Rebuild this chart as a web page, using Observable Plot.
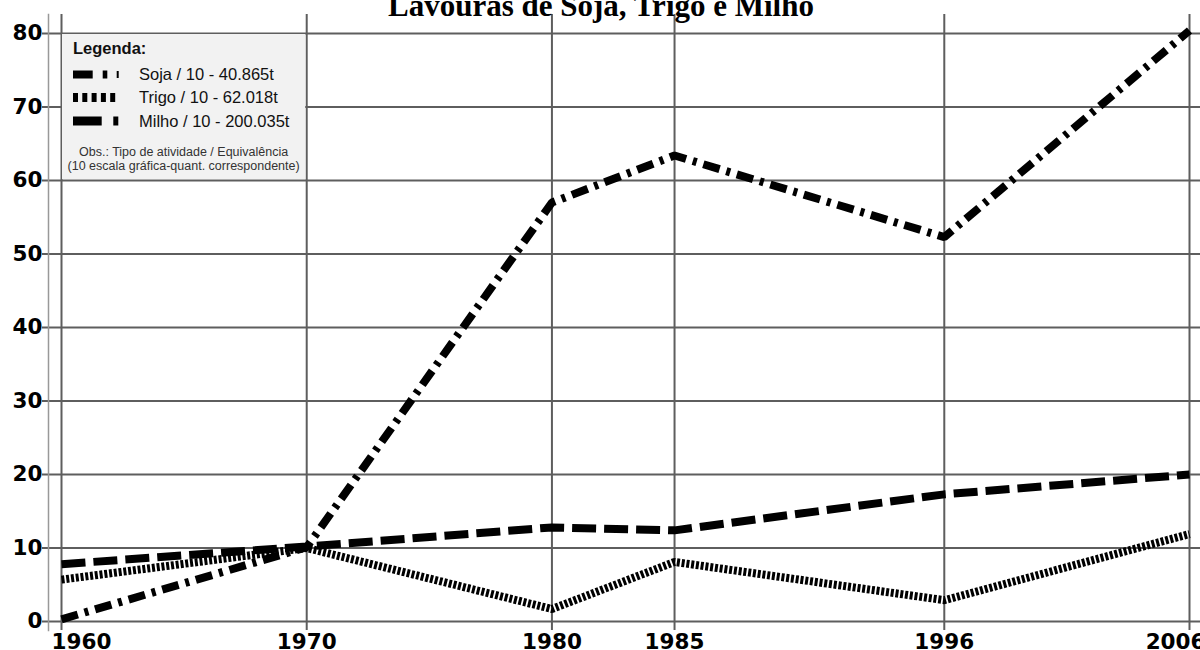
<!DOCTYPE html>
<html><head><meta charset="utf-8">
<script src="https://cdn.jsdelivr.net/npm/d3@7"></script>
<script src="https://cdn.jsdelivr.net/npm/@observablehq/plot@0.6"></script>
<style>
html,body{margin:0;padding:0;background:#fff;overflow:hidden;}
#chart{position:relative;width:1200px;height:650px;}
</style></head><body><div id="chart"></div>
<script>
const title = "Lavouras de Soja, Trigo e Milho";
const years = [1960, 1970, 1980, 1985, 1996, 2006];
const soja  = [0.3, 10.1, 57.0, 63.4, 52.3, 80.4];
const trigo = [5.7, 10.0, 1.7, 8.1, 2.9, 11.9];
const milho = [7.8, 10.2, 12.8, 12.4, 17.3, 20.0];
const yTicks = [0, 10, 20, 30, 40, 50, 60, 70, 80];
const legendTitle = "Legenda:";
const legendLabels = ["Soja / 10 - 40.865t", "Trigo / 10 - 62.018t", "Milho / 10 - 200.035t"];
const legendNote = ["Obs.: Tipo de atividade / Equivalência", "(10 escala gráfica-quant. correspondente)"];

const series = [
  {name: "Milho", values: milho, dash: "24,8"},
  {name: "Trigo", values: trigo, dash: "3,1.8"},
  {name: "Soja", values: soja, dash: "17,7,4,7"}
];
const rows = series.flatMap(s => years.map((yr, i) => ({serie: s.name, year: yr, value: s.values[i]})));

const gridColor = "#5e5e5e";
const midYears = years.slice(1, -1);
const lblStyle = {frameAnchor: "bottom", lineAnchor: "top", dy: 12, fontSize: 21.5, fontWeight: "bold", fontFamily: "DejaVu Sans", fill: "#000"};

const plot = Plot.plot({
  width: 1200, height: 650,
  marginLeft: 61, marginRight: 11, marginTop: 33, marginBottom: 29,
  style: {fontFamily: "DejaVu Sans", background: "#fff"},
  x: {domain: [years[0], years[years.length - 1]], axis: null},
  y: {domain: [yTicks[0], yTicks[yTicks.length - 1]], axis: null},
  marks: [
    Plot.ruleY(yTicks, {stroke: gridColor, strokeWidth: 2, insetLeft: -19, insetRight: -11}),
    Plot.ruleX(years, {stroke: gridColor, strokeWidth: 2, insetTop: -19, insetBottom: -9}),
    Plot.frame({anchor: "left", dx: -13, stroke: "#999", strokeWidth: 1.5, insetTop: -19, insetBottom: -9}),
    Plot.axisY(yTicks, {tickSize: 0, tickPadding: 19, fontSize: 21.5, fontWeight: "bold", fontFamily: "DejaVu Sans", fill: "#000", label: null}),
    ...series.map(s => Plot.line(rows.filter(d => d.serie === s.name), {
      x: "year", y: "value", stroke: "#000", strokeWidth: 8, strokeDasharray: s.dash,
      strokeLinecap: "butt", strokeLinejoin: "miter"
    })),
    Plot.text(midYears, {x: d => d, text: d => String(d), ...lblStyle}),
    Plot.text([years[0]], {x: d => d, text: d => String(d), dx: -10, textAnchor: "start", ...lblStyle}),
    Plot.text([years[years.length - 1]], {x: d => d, text: d => String(d), dx: 16, textAnchor: "end", ...lblStyle})
  ]
});
document.getElementById("chart").appendChild(plot);

const sx = plot.scale("x"), sy = plot.scale("y");
const svg = d3.select(plot);

// Title
svg.append("text").attr("x", 601).attr("y", 16).attr("text-anchor", "middle")
  .attr("font-family", "'Liberation Serif', 'Times New Roman', serif").attr("font-weight", "bold")
  .attr("font-size", 31).attr("fill", "#000").text(title);

// Legend box occupying grid cell
const lx0 = sx.apply(years[0]), lx1 = sx.apply(years[1]);
const ly0 = sy.apply(yTicks[8]), ly1 = sy.apply(yTicks[6]);
const g = svg.append("g").attr("transform", `translate(${lx0},${ly0})`).attr("text-anchor", "start");
g.append("rect").attr("x", 1).attr("y", 1).attr("width", lx1 - lx0 - 2).attr("height", ly1 - ly0 - 2).attr("fill", "#f2f2f2");
const lf = "'Liberation Sans', Arial, sans-serif";
g.append("text").attr("x", 12).attr("y", 21).attr("text-anchor", "start").attr("font-family", lf).attr("font-weight", "bold").attr("font-size", 16.5).attr("fill", "#111").text(legendTitle);
const rowY = [47, 70, 93.5];
legendLabels.forEach((t, i) => {
  g.append("text").attr("x", 78).attr("y", rowY[i]).attr("text-anchor", "start").attr("font-family", lf).attr("font-size", 16.5).attr("fill", "#111").text(t);
});
// swatches
const sw = [
  [[12, 19.7, 8], [41.7, 4.6, 8], [55.7, 2, 7]],
  [[12, 5, 9], [21.3, 5, 9], [30.6, 5, 9], [39.9, 5, 9], [49.2, 5, 9]],
  [[12, 28.7, 9], [52.3, 5, 9]]
];
sw.forEach((blocks, i) => {
  blocks.forEach(([x, w, h]) => {
    g.append("rect").attr("x", x).attr("y", rowY[i] - 5.5 - h / 2).attr("width", w).attr("height", h).attr("fill", "#000");
  });
});
legendNote.forEach((t, i) => {
  g.append("text").attr("x", (lx1 - lx0) / 2).attr("y", 122.5 + i * 14).attr("text-anchor", "middle")
    .attr("font-family", lf).attr("font-size", 12.5).attr("fill", "#333").text(t);
});
</script>
</body></html>
